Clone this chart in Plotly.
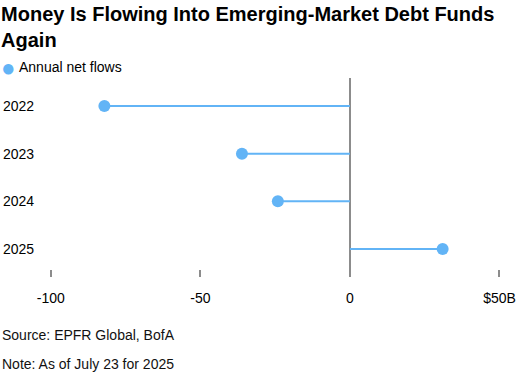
import plotly.graph_objects as go

years = ["2022", "2023", "2024", "2025"]
flows = [-82.1, -36.1, -24.1, 31.0]
x_tickvals = [-100, -50, 0, 50]
x_ticktext = ["-100", "-50", "0", "$50B"]

title_text = "Money Is Flowing Into Emerging-Market Debt Funds<br>Again"
legend_text = "Annual net flows"
source_text = "Source: EPFR Global, BofA"
note_text = "Note: As of July 23 for 2025"

BLUE = "#62b4f6"
FONT = "Liberation Sans, Arial, sans-serif"

stem_x, stem_y = [], []
for y, v in zip(years, flows):
    stem_x += [0, v, None]
    stem_y += [y, y, None]

fig = go.Figure()
fig.add_trace(go.Scatter(x=stem_x, y=stem_y, mode="lines",
                         line=dict(color=BLUE, width=2), hoverinfo="skip",
                         showlegend=False))
fig.add_trace(go.Scatter(x=flows, y=years, mode="markers", name=legend_text,
                         marker=dict(color=BLUE, size=12), showlegend=False))

W, H = 524, 377
top, bottom = 78, 277
ph = bottom - top

def py(px):
    return (bottom - px) / ph

def pxx(px):
    return px / W

fig.update_layout(
    width=W, height=H,
    margin=dict(l=0, r=0, t=top, b=H - bottom),
    paper_bgcolor="white", plot_bgcolor="white",
    font=dict(family=FONT, size=14, color="#000"),
    title=dict(text=title_text, font=dict(family=FONT, size=20, color="#000", weight=700),
               x=0.002, xanchor="left", xref="container",
               y=1 - 21 / H, yanchor="top", yref="container"),
    xaxis=dict(range=[-117.0, 58.2], tickvals=x_tickvals, ticktext=x_ticktext,
               showgrid=False, zeroline=True, zerolinecolor="#8c8c8c", zerolinewidth=2,
               ticks="inside", ticklen=7, tickwidth=2, tickcolor="#8c8c8c",
               ticklabelstandoff=11, showline=False,
               tickfont=dict(size=14, color="#000")),
    yaxis=dict(type="category", categoryorder="array", categoryarray=years,
               range=[3.587, -0.587], showgrid=False, zeroline=False,
               ticks="", ticklabelposition="inside", ticklabelstandoff=0,
               tickfont=dict(size=14, color="#000")),
    annotations=[
        dict(text="●", xref="paper", yref="paper", x=pxx(8), y=py(67.5),
             xanchor="center", yanchor="middle", showarrow=False,
             font=dict(size=24, color=BLUE)),
        dict(text=legend_text, xref="paper", yref="paper", x=pxx(17), y=py(67),
             xanchor="left", yanchor="middle", showarrow=False,
             font=dict(size=14, color="#000")),
        dict(text=source_text, xref="paper", yref="paper", x=0, y=py(335),
             xanchor="left", yanchor="middle", showarrow=False,
             font=dict(size=14, color="#111")),
        dict(text=note_text, xref="paper", yref="paper", x=0, y=py(364),
             xanchor="left", yanchor="middle", showarrow=False,
             font=dict(size=14, color="#111")),
    ],
)

fig.write_html("out.html", config={"displayModeBar": False},
               post_script="document.body.style.margin='0';")
